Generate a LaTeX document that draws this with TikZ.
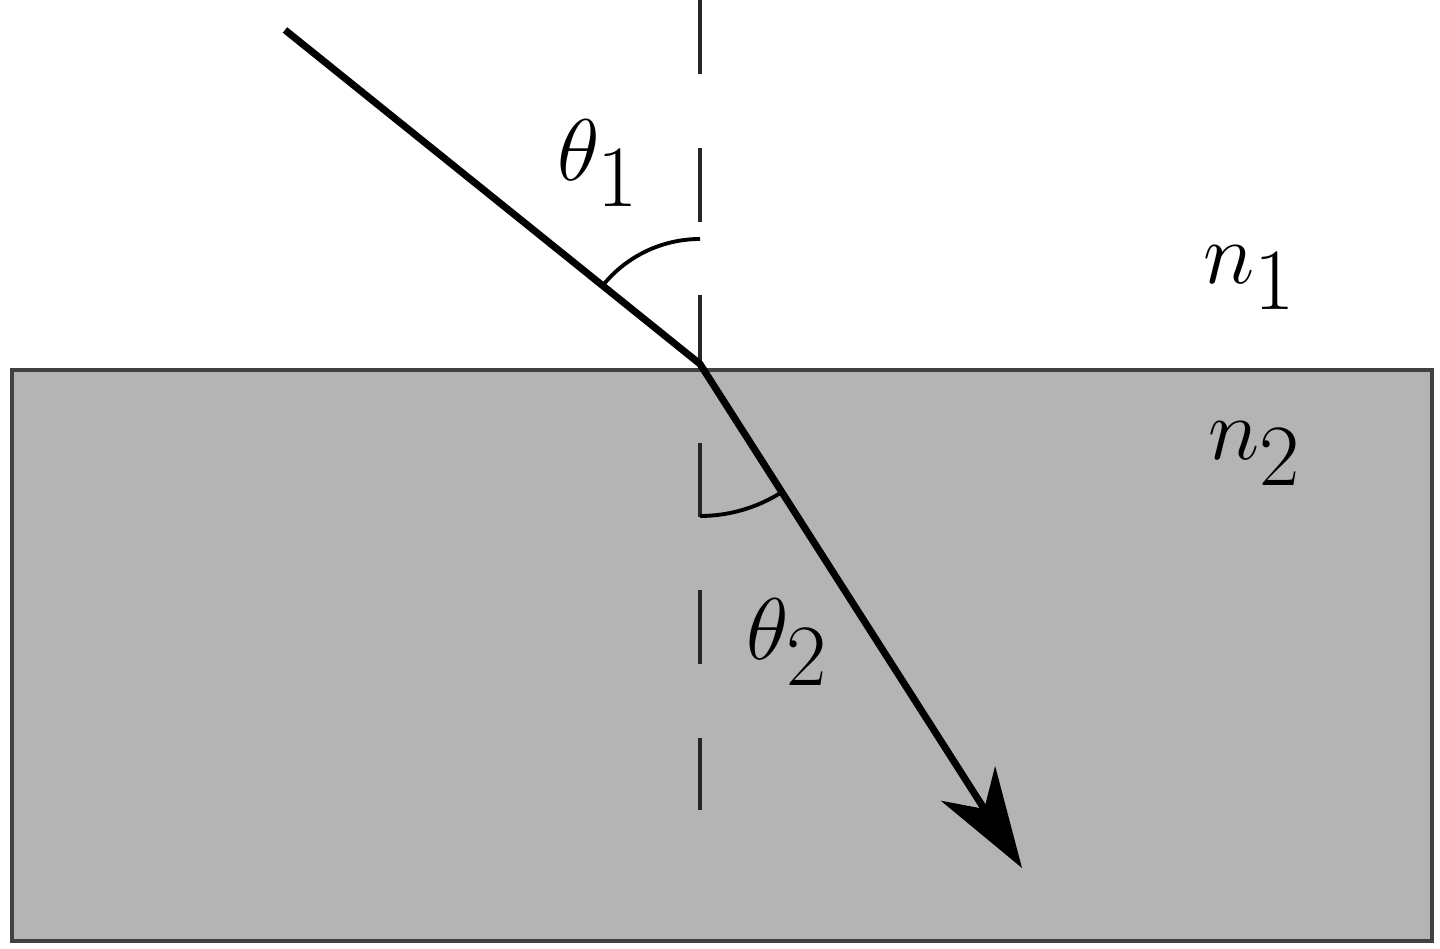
\documentclass[tikz,border=0pt]{standalone}
\usepackage{amsmath}
\usetikzlibrary{arrows.meta}
\definecolor{slabgray}{RGB}{180,180,180}
\definecolor{slabedge}{RGB}{65,65,65}
\tikzset{
  ray/.style={line width=2pt, black},
  anglearc/.style={line width=1.1pt},
  medium/.style={inner sep=0pt, font=\fontsize{41}{49}\selectfont}
}
\begin{document}
\begin{tikzpicture}[x=0.01cm, y=0.01cm]
    \useasboundingbox (0,0) rectangle (1440,949);
    % Draw the slab
    \draw [fill=slabgray, draw=slabedge, line width=1.4pt] (12,8) rectangle (1432,579);
    % Points of the ray
    \coordinate (S) at (285,919);
    \coordinate (O) at (700,585);
    \coordinate (T) at (1022,81);
    % Draw the normal
    \coordinate (ntop) at (700,949);
    \coordinate (nbot) at (700,139);
    \draw [dash pattern=on 0.74cm off 0.735cm, line width=1.2pt, black!85] (ntop) -- (nbot);
    % Draw the ray
    \draw [ray, -{Stealth[length=1cm, width=0.64cm, inset=0.3cm]}] (S) -- (O) -- (T);
    % Draw angle arcs
    \draw [anglearc] ([shift={(90:125)}]O) arc (90:141.2:125);
    \draw [anglearc] ([shift={(270:152)}]O) arc (270:302.6:152);
    % Labels
    \node (theta1) [medium] at (598,786) {$\theta_1$};
    \node (theta2) [medium] at (787,307) {$\theta_2$};
    \node (n1) [medium] at (1250,671) {$n_1$};
    \node (n2) [medium] at (1255,495) {$n_2$};
\end{tikzpicture}
\end{document}
